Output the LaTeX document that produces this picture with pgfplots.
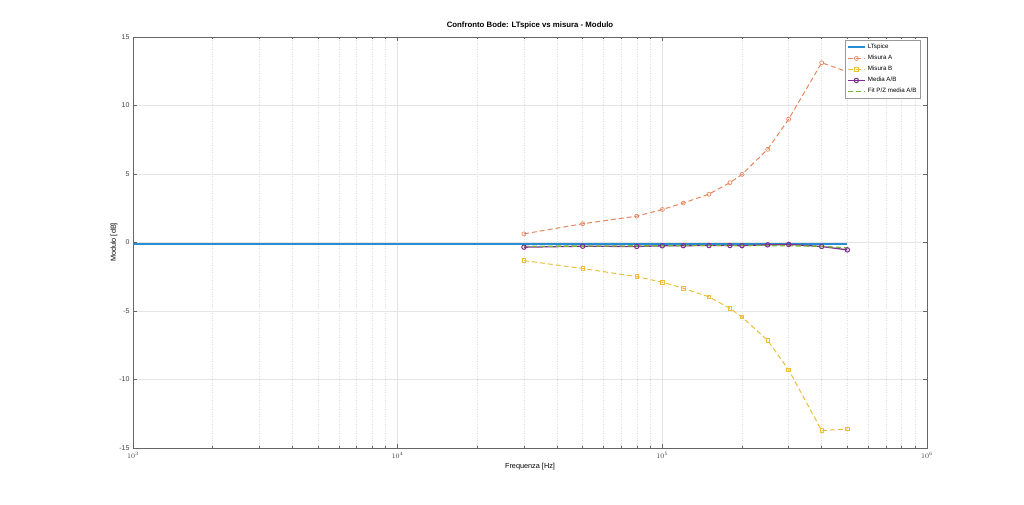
\documentclass[border=0pt]{standalone}
\usepackage{pgfplots}
\pgfplotsset{compat=1.18}
\usepackage{fontspec}
\setmainfont{Liberation Sans}
\definecolor{ltblue}{RGB}{40,140,210}
\definecolor{maorange}{RGB}{230,135,95}
\definecolor{mbyellow}{RGB}{235,190,60}
\definecolor{mdpurple}{RGB}{126,47,142}
\definecolor{mfgreen}{RGB}{120,180,60}
\begin{document}
\begin{tikzpicture}[x=1pt,y=1pt]
\path[use as bounding box] (0,0) rectangle (1024,504);
\begin{axis}[
  at={(133pt,56pt)}, anchor=south west,
  width=794pt, height=411pt, scale only axis,
  xmode=log, xmin=1000, xmax=1000000,
  ymin=-15, ymax=15, ytick={-15,-10,...,15},
  xtick={1000,10000,100000,1000000},
  grid=both,
  major grid style={gray!20, line width=0.4pt},
  minor x grid style={gray!25, dotted, line width=0.4pt},
  minor y grid style={draw=none},
  tick align=inside,
  tick style={black!60, line width=0.4pt},
  major tick length=4pt, minor tick length=2.5pt,
  axis line style={black!60, line width=0.5pt},
  tick label style={font=\fontsize{7}{8}\selectfont, text=black!75},
  /pgf/number format/assume math mode=true,
  xticklabel style={yshift=-1pt},
  title={\textbf{Confronto Bode: LTspice vs misura - Modulo}},
  title style={font=\fontsize{7.8}{9}\selectfont, yshift=-2pt},
  xlabel={Frequenza [Hz]}, ylabel={Modulo [dB]},
  xlabel style={font=\fontsize{7.3}{8}\selectfont, yshift=2pt},
  ylabel style={font=\fontsize{7.3}{8}\selectfont, yshift=-5pt},
  legend style={font=\fontsize{6.2}{7}\selectfont, draw=black!40, fill=white, inner sep=2pt, row sep=1pt, at={(0.992,0.992)}, anchor=north east},
  legend cell align=left,
]
\addplot[color=ltblue, line width=2pt] coordinates {(1000,-0.08) (500000,-0.08)};
\addlegendentry{LTspice}
\addplot[color=maorange, dash pattern=on 5pt off 3pt, line width=1pt, mark=o, mark size=2pt, mark options={solid, line width=0.7pt}] coordinates {
(30000,0.63) (50000,1.37) (80000,1.92) (100000,2.41) (120000,2.88) (150000,3.53)
(180000,4.37) (200000,4.97) (250000,6.80) (300000,9.0) (400000,13.12) (500000,12.46)};
\addlegendentry{Misura A}
\addplot[color=mbyellow, dash pattern=on 5pt off 3pt, line width=1pt, mark=square, mark size=1.8pt, mark options={solid, line width=0.7pt}] coordinates {
(30000,-1.32) (50000,-1.90) (80000,-2.49) (100000,-2.90) (120000,-3.34) (150000,-3.97)
(180000,-4.80) (200000,-5.44) (250000,-7.15) (300000,-9.29) (400000,-13.73) (500000,-13.61)};
\addlegendentry{Misura B}
\addplot[color=mdpurple, line width=1.3pt, mark=o, mark size=2.2pt, mark options={line width=1pt}] coordinates {
(30000,-0.34) (50000,-0.27) (80000,-0.29) (100000,-0.24) (120000,-0.23) (150000,-0.22)
(180000,-0.22) (200000,-0.23) (250000,-0.17) (300000,-0.14) (400000,-0.29) (500000,-0.54)};
\addlegendentry{Media A/B}
\addplot[color=mfgreen, dash pattern=on 5pt off 3pt, line width=1.4pt] coordinates {
(30000,-0.28) (50000,-0.26) (80000,-0.25) (100000,-0.23) (120000,-0.22) (150000,-0.22)
(180000,-0.22) (200000,-0.22) (250000,-0.22) (300000,-0.23) (400000,-0.28) (500000,-0.40)};
\addlegendentry{Fit P/Z media A/B}
\end{axis}
\end{tikzpicture}
\end{document}
